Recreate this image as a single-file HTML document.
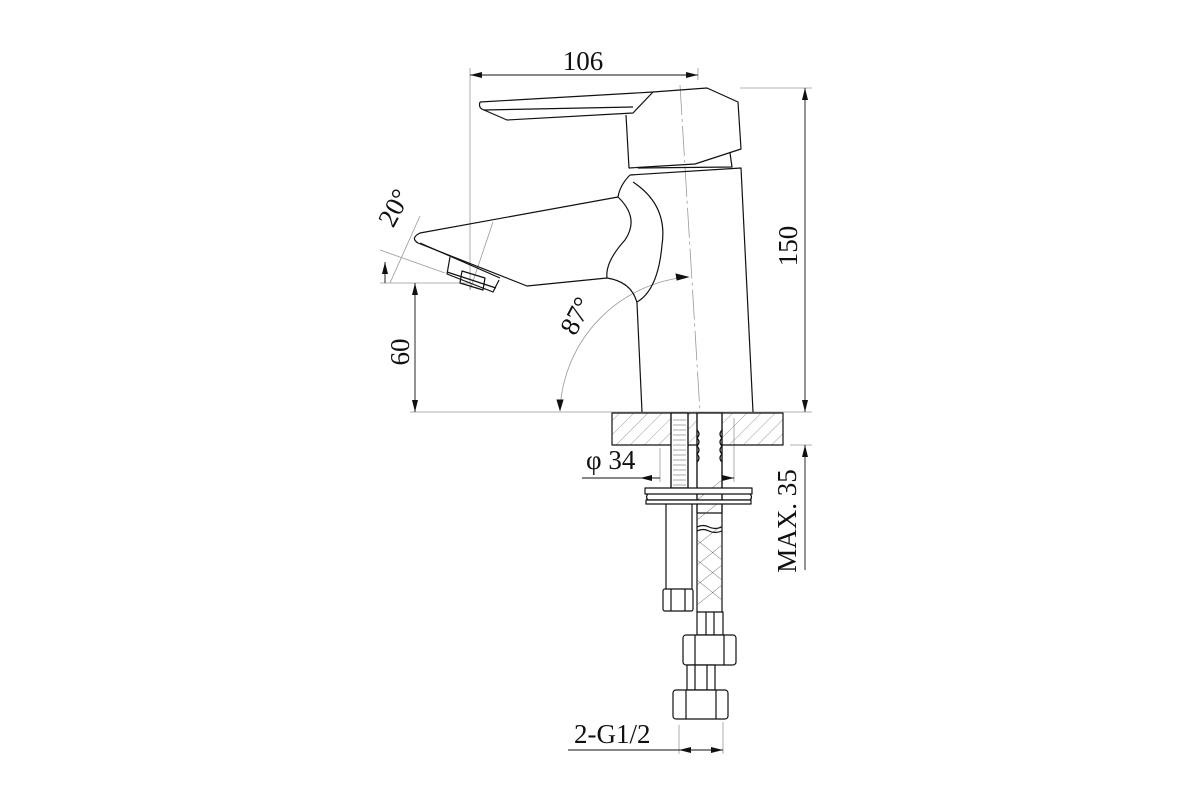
<!DOCTYPE html>
<html><head><meta charset="utf-8"><style>
html,body{margin:0;padding:0;background:#fff;width:1200px;height:800px;overflow:hidden}
text{font-family:"Liberation Serif",serif;fill:#111}
</style></head><body>
<svg width="1200" height="800" viewBox="0 0 1200 800" xmlns="http://www.w3.org/2000/svg">
<defs>
<marker id="a" viewBox="0 0 12 6" refX="12" refY="3" markerWidth="12" markerHeight="6" orient="auto-start-reverse" markerUnits="userSpaceOnUse"><path d="M0,0L12,3L0,6z" fill="#111"/></marker>
<pattern id="h" width="10" height="10" patternUnits="userSpaceOnUse" patternTransform="rotate(45)"><line x1="0" y1="0" x2="0" y2="10" stroke="#777" stroke-width="0.7"/></pattern>
</defs>
<g fill="none" stroke="#999" stroke-width="0.8">
<line x1="470" y1="68" x2="470" y2="290"/>
<line x1="698" y1="68" x2="698" y2="80"/>
<line x1="680" y1="85" x2="700" y2="412" stroke-dasharray="30 4 3 4"/>
<line x1="740" y1="88" x2="812" y2="88"/>
<line x1="410" y1="412" x2="812" y2="412"/>
<line x1="380" y1="283" x2="470" y2="283"/>
<line x1="790" y1="445" x2="812" y2="445"/>
<line x1="380" y1="250" x2="445" y2="273"/>
<line x1="420" y1="216" x2="390" y2="283"/>
<line x1="493" y1="222" x2="470" y2="290"/>
<line x1="660" y1="448" x2="660" y2="482"/>
<line x1="734" y1="418" x2="734" y2="482"/>
<line x1="679" y1="725" x2="679" y2="754"/>
<line x1="723" y1="722" x2="723" y2="754"/>
<path d="M560,410 A140,140 0 0 1 688,277"/>
</g>
<g fill="none" stroke="#111" stroke-width="0.9">
<line x1="470" y1="75" x2="698" y2="75" marker-start="url(#a)" marker-end="url(#a)"/>
<line x1="805" y1="88" x2="805" y2="412" marker-start="url(#a)" marker-end="url(#a)"/>
<line x1="415" y1="283" x2="415" y2="412" marker-start="url(#a)" marker-end="url(#a)"/>
<line x1="385" y1="262" x2="385" y2="283" marker-start="url(#a)"/>
<line x1="805" y1="445" x2="805" y2="570" marker-start="url(#a)"/>
<line x1="582" y1="478" x2="660" y2="478"/>
<line x1="700" y1="478" x2="734" y2="478"/>
<line x1="640" y1="478" x2="660" y2="478" marker-start="url(#a)"/>
<line x1="712" y1="478" x2="734" y2="478" marker-end="url(#a)"/>
<line x1="568" y1="750" x2="723" y2="750"/>
<line x1="679" y1="750" x2="700" y2="750" marker-start="url(#a)"/>
<line x1="705" y1="750" x2="723" y2="750" marker-end="url(#a)"/>
<path d="M560,410 l-3,-10 l6,0z" fill="#111"/>
<path d="M688,277 l-12,-3 l1,6z" fill="#111"/>
</g>
<g fill="none" stroke="#111" stroke-width="1.2" stroke-linejoin="round">
<path d="M480,102 L653,92 L707,88 L738,102 L741,149 L695,164 L629,168 L626,115"/>
<path d="M480,102 Q478,108 484,110 L507,120 L633,113 L653,92"/>
<path d="M484,110 L633,107"/>
<path d="M638,168 L732,167 L730,153"/>
<path d="M630,175 L741,168 L753,412"/>
<path d="M637,303 L642,412"/>
<path d="M630,175 Q620,185 618,197 Q640,218 625,240 Q605,262 607,278 Q632,282 637,303"/>
<path d="M633,182 Q668,205 662,245 Q658,290 637,302"/>
<path d="M618,197 L420,233 Q410,238 418,243 L527,286 L607,278"/>
<path d="M420,243 L500,278"/>
<path d="M450,257 L447,274 L493,292 L499,280"/>
<path d="M462,271 L485,278 L483,290 L460,283z"/>
<line x1="447" y1="272" x2="496" y2="288"/>
<rect x="612" y="413" width="171" height="32" fill="url(#h)"/>
<rect x="671" y="413" width="17" height="75" fill="#fff"/>
<rect x="697" y="413" width="25" height="100" fill="#fff"/>
<line x1="697" y1="413" x2="697" y2="612"/>
<line x1="722" y1="413" x2="722" y2="612"/>
<path d="M697,430 q4,4 0,8 q4,4 0,8 q4,4 0,8 q4,4 0,8 M722,430 q-4,4 0,8 q-4,4 0,8 q-4,4 0,8 q-4,4 0,8" />
<g stroke-width="0.5" stroke="#555"><line x1="673" y1="420" x2="686" y2="420"/><line x1="673" y1="425" x2="686" y2="425"/><line x1="673" y1="430" x2="686" y2="430"/><line x1="673" y1="435" x2="686" y2="435"/><line x1="673" y1="440" x2="686" y2="440"/><line x1="673" y1="445" x2="686" y2="445"/><line x1="673" y1="450" x2="686" y2="450"/><line x1="673" y1="455" x2="686" y2="455"/><line x1="673" y1="460" x2="686" y2="460"/><line x1="673" y1="465" x2="686" y2="465"/><line x1="673" y1="470" x2="686" y2="470"/><line x1="673" y1="475" x2="686" y2="475"/><line x1="673" y1="480" x2="686" y2="480"/><line x1="673" y1="485" x2="686" y2="485"/>
<path d="M697,500 l25,-20 M697,520 l25,-20 M697,545 l25,-20 M697,565 l25,-20 M697,585 l25,-20 M697,605 l25,-20 M697,540 l25,20 M697,560 l25,20 M697,580 l25,20"/></g>
<line x1="671" y1="413" x2="671" y2="488"/><line x1="688" y1="413" x2="688" y2="488"/>
<rect x="645" y="488" width="107" height="6" fill="#fff"/>
<path d="M648,494 q-3,3 0,6 L750,500 q3,-3 0,-6"/>
<rect x="646" y="500" width="105" height="4" fill="#fff"/>
<path d="M697,527 q6,-3 12,0 q6,3 13,0"/>
<path d="M697,531 q6,-3 12,0 q6,3 13,0"/>
<line x1="666" y1="504" x2="666" y2="589"/><line x1="692" y1="504" x2="692" y2="589"/>
<rect x="663" y="589" width="30" height="22" rx="2" fill="#fff"/>
<line x1="671" y1="589" x2="671" y2="611"/><line x1="685" y1="589" x2="685" y2="611"/>
<rect x="697" y="612" width="26" height="23" fill="#fff"/>
<line x1="706" y1="612" x2="706" y2="635"/><line x1="714" y1="612" x2="714" y2="635"/>
<rect x="683" y="635" width="53" height="30" rx="3" fill="#fff"/>
<line x1="695" y1="635" x2="695" y2="665"/><line x1="724" y1="635" x2="724" y2="665"/>
<rect x="687" y="665" width="28" height="25" fill="#fff"/>
<line x1="695" y1="665" x2="695" y2="690"/><line x1="707" y1="665" x2="707" y2="690"/>
<rect x="673" y="690" width="55" height="29" rx="3" fill="#fff"/>
<line x1="686" y1="690" x2="686" y2="719"/><line x1="716" y1="690" x2="716" y2="719"/>
</g>
<g font-size="27">
<text x="583" y="70" text-anchor="middle">106</text>
<text transform="translate(797 246) rotate(-90)" text-anchor="middle">150</text>
<text transform="translate(409 352) rotate(-90)" text-anchor="middle">60</text>
<text transform="translate(402 212) rotate(-62)" text-anchor="middle">20°</text>
<text transform="translate(584 320) rotate(-62)" text-anchor="middle">87°</text>
<text x="586" y="469">φ 34</text>
<text transform="translate(796 521) rotate(-90)" text-anchor="middle">MAX. 35</text>
<text x="574" y="743">2-G1/2</text>
</g>
</svg>
</body></html>
